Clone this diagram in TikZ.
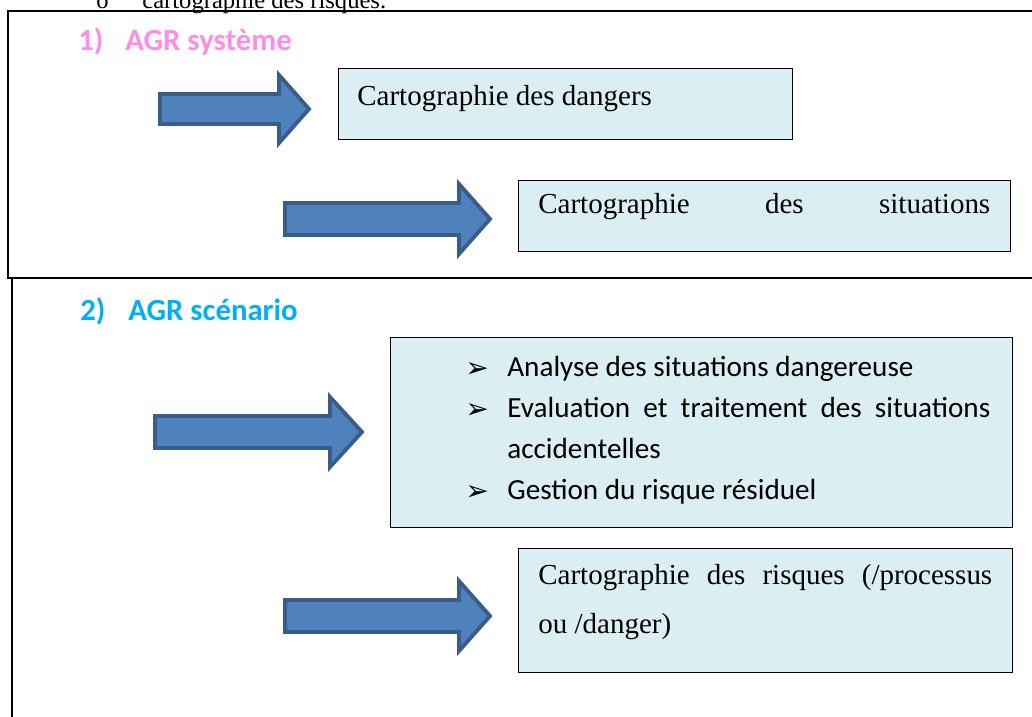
\documentclass[tikz,border=0pt]{standalone}
\usepackage{fontspec}
\setmainfont{Liberation Serif}
\newfontfamily\calibrifont{Carlito}
\newfontfamily\dingfont{DejaVu Sans}
\usetikzlibrary{calc}

\definecolor{boxblue}{RGB}{219,238,243}
\definecolor{arrowblue}{RGB}{79,129,189}
\definecolor{arrowedge}{RGB}{56,93,138}
\definecolor{titlepink}{RGB}{255,140,230}
\definecolor{titlecyan}{RGB}{0,176,240}

\tikzset{
  panel/.style={draw=black, line width=1.1pt},
  txtbox/.style={draw=black, fill=boxblue, line width=0.6pt, anchor=north west, inner sep=0pt},
  blockarrow/.style={fill=arrowblue, draw=arrowedge, line width=2.2pt, line join=miter},
  serif txt/.style={anchor=base west, inner sep=0pt, font=\fontsize{16.5}{20}\selectfont},
  list txt/.style={anchor=base west, inner sep=0pt, font=\calibrifont\fontsize{16.6}{20}\selectfont},
  list mark/.style={anchor=base west, inner sep=0pt, font=\dingfont\fontsize{16}{18}\selectfont},
  heading/.style={anchor=base west, inner sep=0pt, font=\calibrifont\bfseries\fontsize{17.5}{20}\selectfont},
}

\begin{document}
\begin{tikzpicture}[x=0.02cm, y=-0.02cm]
\useasboundingbox (0,0) rectangle (1032,717);
% frames of the two parts
\draw[panel] (1060,11) -- (8,11) -- (8,278) -- (1060,278);
\draw[panel] (12,278) -- (12,740);
% line of the page above, cut by the frame
\node[anchor=base west, inner sep=0pt, font=\fontsize{14}{16}\selectfont] (prevmark) at (96,8) {o};
\node[anchor=base west, inner sep=0pt, font=\fontsize{14}{16}\selectfont] (prevline) at (142,8) {cartographie des risques.};

% titles
\node[heading, text=titlepink] (num1) at (78,50) {1)};
\node[heading, text=titlepink] (title1) at (125,50) {AGR système};
\node[heading, text=titlecyan] (num2) at (80,320) {2)};
\node[heading, text=titlecyan] (title2) at (128,320) {AGR scénario};

% boxes
\node[txtbox, minimum width=9.08cm, minimum height=1.42cm] (dangers) at (338,68) {};
\node[txtbox, minimum width=9.84cm, minimum height=1.42cm] (situations) at (518,180) {};
\node[txtbox, minimum width=12.44cm, minimum height=3.8cm] (scenario) at (390,337) {};
\node[txtbox, minimum width=9.88cm, minimum height=2.48cm] (risques) at (518,548) {};

\node[serif txt] (dangerstxt) at (357,105) {Cartographie des dangers};
\node[serif txt] (situationstxt) at (538,213) {\makebox[9.04cm][s]{Cartographie des situations}};
\node[serif txt] (risquestxt) at (538,584) {\makebox[9.08cm][s]{Cartographie des risques (/processus}};
\node[serif txt] (risquestxt2) at (538,633) {ou /danger)};

% list of the scenario box
\foreach \n / \y in {1/377, 2/418, 4/500}
  \node[list mark] (mark\n) at (465,\y) {➢};
\node[list txt] (item1) at (507,376) {Analyse des situations dangereuse};
\node[list txt] (item2) at (507,417) {\makebox[9.66cm][s]{Evaluation et traitement des situations}};
\node[list txt] (item3) at (507,458) {accidentelles};
\node[list txt] (item4) at (507,499) {Gestion du risque résiduel};

% block arrows
\foreach \tl / \hb / \tp / \cy / \sh / \hh in {160/279/309/109/15/34, 285/459/490/219/16/35,
  155/330/362/432/16/35, 285/459/490/616/16/35} {
\draw[blockarrow] (\tl,{\cy-\sh}) -- (\hb,{\cy-\sh}) -- (\hb,{\cy-\hh}) -- (\tp,\cy)
  -- (\hb,{\cy+\hh}) -- (\hb,{\cy+\sh}) -- (\tl,{\cy+\sh}) -- cycle;
}
\end{tikzpicture}
\end{document}
